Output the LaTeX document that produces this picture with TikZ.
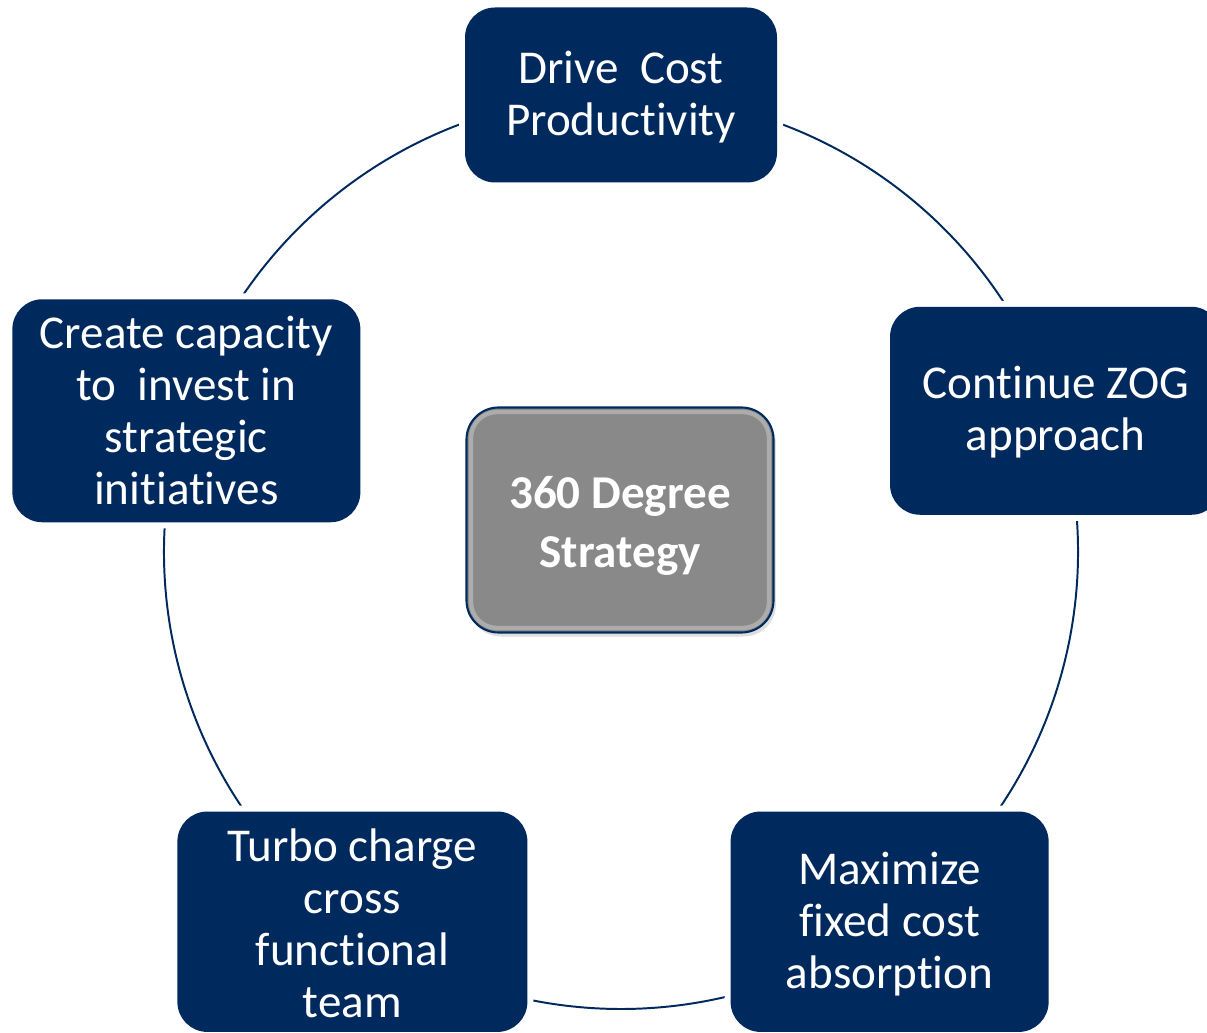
\documentclass[tikz,border=0pt]{standalone}
\usepackage{fontspec}
\setmainfont{Carlito}[Ligatures=NoCommon]
\usetikzlibrary{calc,backgrounds,shadows}
\definecolor{cyclenavy}{RGB}{0,42,94}
\definecolor{hubgray}{RGB}{137,137,137}
% lifts the first line so the text sits a little lower in its box
\newcommand{\goalstrut}[1][25.5pt]{\rule{0pt}{#1}}

\tikzset{
  goalbox/.style={rectangle, rounded corners=0.75cm, fill=cyclenavy, text=white,
    align=center, inner sep=0pt, font=\fontsize{33.5}{37}\selectfont,
    preaction={draw=white, line width=0.3cm}},
  hubbox/.style={rectangle, rounded corners=0.8cm, fill=hubgray, draw=cyclenavy,
    line width=1.5pt, text=white, align=center, inner sep=0pt,
    font=\fontsize{33.5}{42}\selectfont\bfseries,
    drop shadow={opacity=0.25, shadow xshift=0.06cm, shadow yshift=-0.1cm}},
  orbitline/.style={cyclenavy, line width=1.4pt},
}

\begin{document}
\begin{tikzpicture}
  \useasboundingbox (0,0) rectangle (30.175,25.8);
  \clip (0,0) rectangle (30.175,25.8);
  \coordinate (orbit) at (15.525,12.0);

  % Goals round the cycle
  \node[goalbox, minimum width=7.8cm, minimum height=4.375cm] (drive)
    at ($(orbit)+(90:11.425)$) {\goalstrut Drive~ Cost\\Productivity};
  \node[goalbox, minimum width=8.28cm, minimum height=5.2cm] (zog)
    at ($(orbit)+(18:11.425)$) {\goalstrut Continue ZOG\\approach};
  \node[goalbox, minimum width=7.95cm, minimum height=5.51cm] (absorb)
    at ($(orbit)+(-54:11.425)$) {\goalstrut[27pt]Maximize\\fixed cost\\absorption};
  \node[goalbox, minimum width=8.75cm, minimum height=5.51cm] (turbo)
    at ($(orbit)+(-126:11.425)$) {\goalstrut Turbo charge\\cross\\functional\\team};
  \node[goalbox, minimum width=8.7cm, minimum height=5.575cm] (capacity)
    at ($(orbit)+(162:11.425)$) {Create capacity\\to~ invest in\\strategic\\initiatives};

  % Hub
  \node[hubbox, minimum width=7.675cm, minimum height=5.625cm] (hub)
    at (15.5,12.8) {\goalstrut[31pt]360 Degree\\Strategy};
  \draw[white, opacity=0.3, line width=3pt, rounded corners=0.65cm]
    ($(hub.north west)+(0.14,-0.14)$) rectangle ($(hub.south east)+(-0.14,0.14)$);

  % Arcs from goal to goal
  \begin{scope}[on background layer]
    \foreach \from/\a in {drive/90, zog/18, absorb/-54, turbo/-126, capacity/162}
      \draw[orbitline] (\from.center) arc[start angle=\a, delta angle=-72, radius=11.425cm];
  \end{scope}
\end{tikzpicture}
\end{document}
